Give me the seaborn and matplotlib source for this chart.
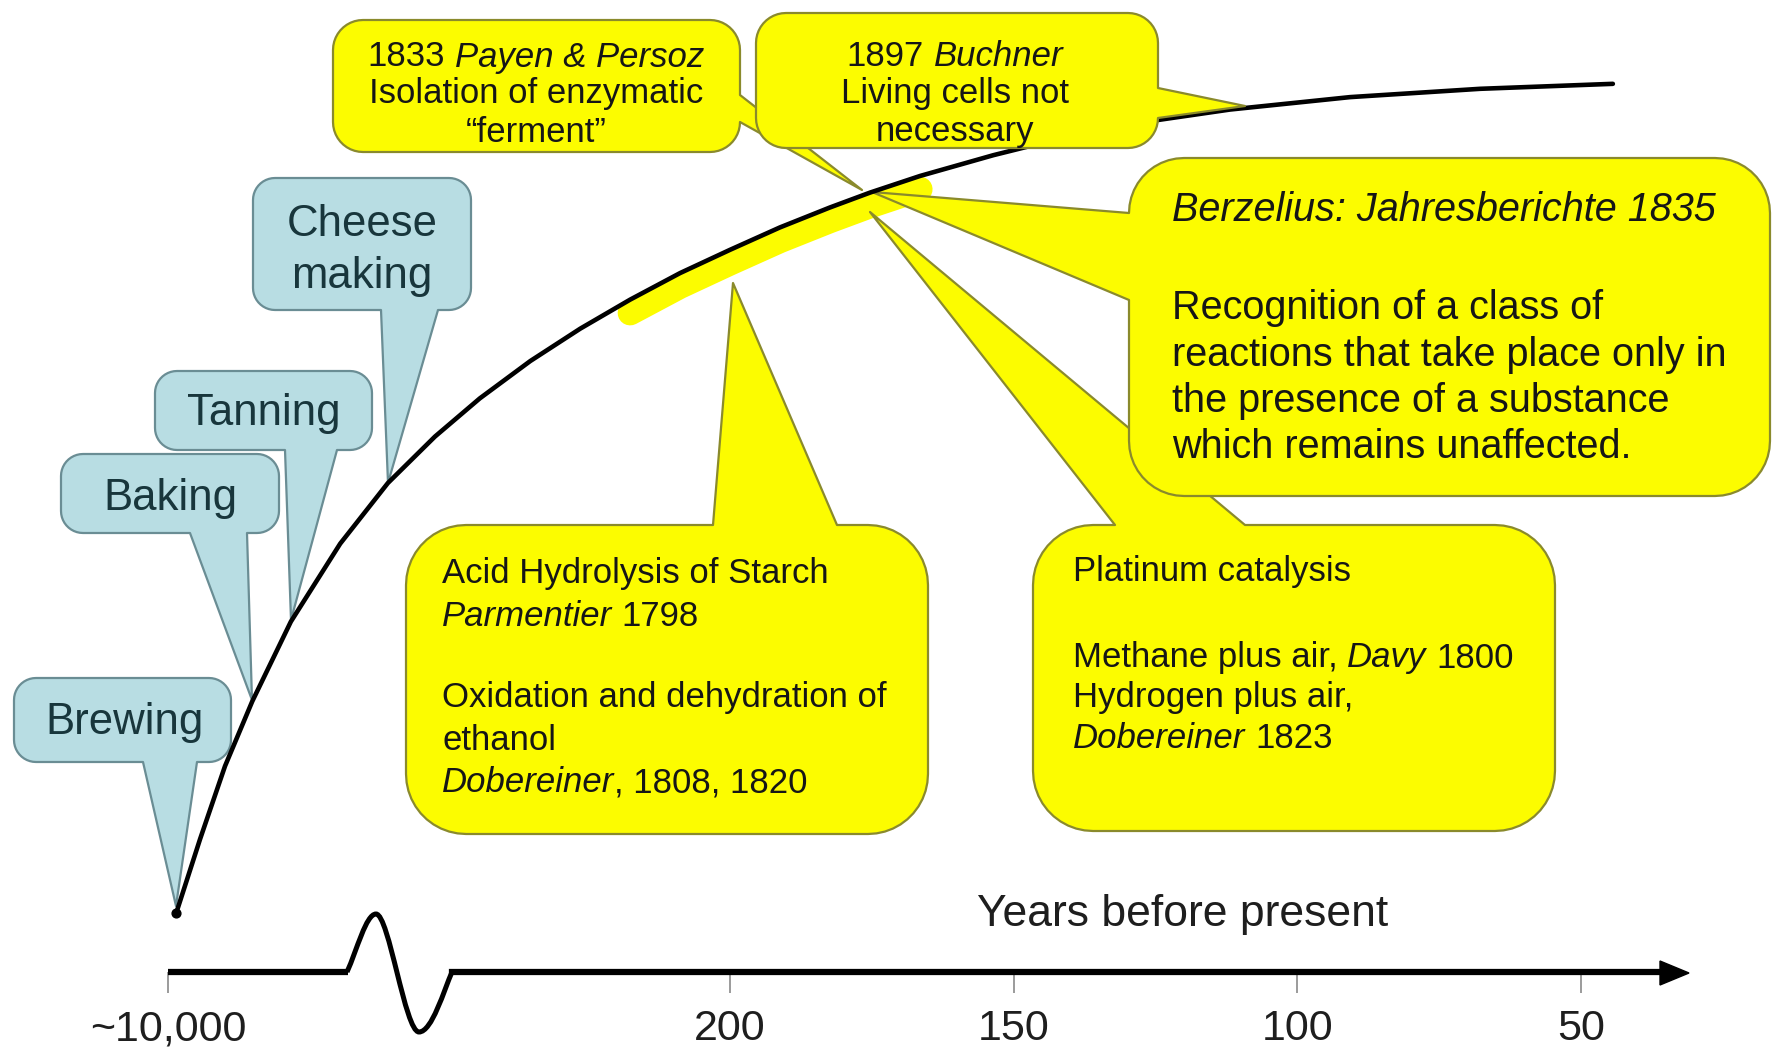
import matplotlib
matplotlib.use("Agg")
import matplotlib.pyplot as plt
import matplotlib.transforms as mtransforms
from matplotlib.patches import Polygon, PathPatch
from matplotlib.path import Path
import numpy as np
import pandas as pd
import seaborn as sns

W, H = 1779, 1056

# progress curve: position on the time axis (years before present, squeezed before the break)
curve_years = [297.6, 293.4, 289.0, 284.2, 277.4, 268.7, 260.3, 252.0, 244.1, 235.2, 226.4,
               217.6, 208.8, 200.0, 191.2, 182.4, 175.3, 166.5, 153.6, 140.1, 126.0, 111.9,
               90.7, 67.8, 44.4]
curve_level = [0, 8.9, 17.7, 25.5, 35.1, 44.5, 51.8, 57.4, 62.0, 66.5, 70.4,
               73.9, 77.1, 79.9, 82.6, 85.0, 86.8, 88.8, 91.3, 93.6, 95.4, 96.8,
               98.3, 99.3, 99.9]

tick_pos = [299, 200, 150, 100, 50]
tick_labels = ['~10,000', '200', '150', '100', '50']
axis_title = 'Years before present'

early_labels = ['Brewing', 'Baking', 'Tanning', 'Cheese\nmaking']

# '*' toggles italics
payen_lines = ['1833 *Payen & Persoz*', 'Isolation of enzymatic', '\u201cferment\u201d']
buchner_lines = ['1897 *Buchner*', 'Living cells not', 'necessary']
berzelius_lines = ['*Berzelius: Jahresberichte 1835*', 'Recognition of a class of',
                   'reactions that take place only in', 'the presence of a substance',
                   'which remains unaffected.']
acid_lines = ['Acid Hydrolysis of Starch', '*Parmentier* 1798', 'Oxidation and dehydration of',
              'ethanol', '*Dobereiner*, 1808, 1820']
platinum_lines = ['Platinum catalysis', 'Methane plus air, *Davy* 1800', 'Hydrogen plus air,',
                  '*Dobereiner* 1823']

YELLOW, YEDGE, YTEXT = '#fcfc00', '#8a8a2c', '#161616'
BLUE, BEDGE, BTEXT = '#b8dde3', '#6a8d94', '#18363c'

sns.set_theme(style='white')
plt.rcParams['font.family'] = ['Liberation Sans', 'DejaVu Sans']

fig = plt.figure(figsize=(W / 100, H / 100), dpi=100)
ax = fig.add_axes([0, 0, 1, 1])
ax.set_xlim(328.66, 15.12)
ax.set_ylim(-17.23, 110.0)

# layout helper: pixel coords from the top-left corner
PIX = mtransforms.Affine2D().scale(1, -1).translate(0, H)
renderer = fig.canvas.get_renderer()


def measure(s, size, style='normal'):
    t = ax.text(0, 0, s, transform=PIX, fontsize=size, style=style)
    w = t.get_window_extent(renderer).width
    t.remove()
    return w


def rich_line(x, yc, line, size, color, ha='left', z=5):
    sp = measure('a a', size) - measure('aa', size)
    parts, total = [], 0
    for i, p in enumerate(line.split('*')):
        if not p:
            continue
        style = 'italic' if i % 2 else 'normal'
        core = p.strip(' ')
        lead = (len(p) - len(p.lstrip(' '))) * sp
        trail = (len(p) - len(p.rstrip(' '))) * sp
        w = measure(core, size, style) if core else 0
        parts.append((total + lead, core, style))
        total += lead + w + trail
    x0 = x - total / 2 if ha == 'center' else x
    yb = yc + 0.36 * size * 100 / 72
    for off, core, style in parts:
        ax.text(x0 + off, yb, core, transform=PIX, fontsize=size, style=style,
                color=color, ha='left', va='baseline', zorder=z)


def callout(box, r, side, base, tip, fc, ec, z):
    x0, y0, x1, y1 = box

    def arc(cx, cy, a0, a1):
        t = np.radians(np.linspace(a0, a1, 12))
        return list(zip(cx + r * np.cos(t), cy + r * np.sin(t)))

    pts = arc(x0 + r, y0 + r, 180, 270)
    if side == 'top':
        pts += [(base[0], y0), tip, (base[1], y0)]
    pts += arc(x1 - r, y0 + r, 270, 360)
    if side == 'right':
        pts += [(x1, base[0]), tip, (x1, base[1])]
    pts += arc(x1 - r, y1 - r, 0, 90)
    if side == 'bottom':
        pts += [(base[1], y1), tip, (base[0], y1)]
    pts += arc(x0 + r, y1 - r, 90, 180)
    if side == 'left':
        pts += [(x0, base[1]), tip, (x0, base[0])]
    ax.add_patch(Polygon(pts, closed=True, transform=PIX, fc=fc, ec=ec, lw=1.6,
                         joinstyle='round', zorder=z))


df = pd.DataFrame({'years': curve_years, 'level': curve_level})

# yellow marker stroke hugging the curve
hl = df[(df.years <= 218) & (df.years >= 166)]
sns.lineplot(x=hl.years, y=hl.level - 1.6, ax=ax, color=YELLOW, linewidth=18,
             solid_capstyle='round', sort=False, zorder=1.5)

# early processes (blue)
blue = [((14, 678, 231, 762), (143, 197), (176, 906)),
        ((61, 454, 279, 533), (190, 247), (252, 700)),
        ((155, 371, 372, 450), (285, 337), (291, 620)),
        ((253, 178, 471, 310), (381, 438), (388, 483))]
blue_text = [[(125, 718)], [(170, 494)], [(264, 409)], [(362, 220), (362, 272)]]
for (box, base, tip), label, pos in zip(blue, early_labels, blue_text):
    callout(box, 22, 'bottom', base, tip, BLUE, BEDGE, 2)
    for line, (x, y) in zip(label.split('\n'), pos):
        rich_line(x, y, line, 31.5, BTEXT, ha='center', z=2.05)

# 19th century milestones (yellow)
callout((1033, 525, 1555, 831), 60, 'top', (1115, 1245), (870, 212), YELLOW, YEDGE, 2.2)
for line, y in zip(platinum_lines, [568, 655, 695, 735]):
    rich_line(1073, y, line, 25, YTEXT, z=2.25)

callout((406, 525, 928, 834), 60, 'top', (713, 837), (733, 283), YELLOW, YEDGE, 2.3)
for line, y in zip(acid_lines, [570, 613, 695, 737, 780]):
    rich_line(442, y, line, 25, YTEXT, z=2.35)

callout((1129, 158, 1770, 496), 55, 'left', (213, 300), (872, 192), YELLOW, YEDGE, 2.4)
for line, y in zip(berzelius_lines, [207, 305, 352, 398, 444]):
    rich_line(1172, y, line, 28.5, YTEXT, z=2.45)

callout((333, 20, 740, 152), 30, 'right', (95, 122), (862, 190), YELLOW, YEDGE, 2.5)
for line, y in zip(payen_lines, [54, 91, 129]):
    rich_line(536, y, line, 25, YTEXT, ha='center', z=2.55)

# the curve itself
sns.lineplot(data=df, x='years', y='level', ax=ax, color='black', linewidth=3.3,
             sort=False, zorder=3)
ax.scatter(curve_years[:1], curve_level[:1], s=40, color='black', zorder=3)

callout((756, 13, 1158, 148), 30, 'right', (88, 118), (1245, 106), YELLOW, YEDGE, 4)
for line, y in zip(buchner_lines, [54, 91, 129]):
    rich_line(955, y, line, 25, YTEXT, ha='center', z=4.05)

# time axis with a break
axis_level = -7.1
break_start, break_end, arrow_base = 267.3, 249.0, 35.7
for s in ['top', 'left', 'right']:
    ax.spines[s].set_visible(False)
ax.spines['bottom'].set_position(('data', axis_level))
ax.spines['bottom'].set_bounds(break_end, arrow_base)
ax.spines['bottom'].set_linewidth(4.5)
ax.spines['bottom'].set_color('black')
ax.set_xlabel('')
ax.set_ylabel('')
ax.set_yticks([])
ax.set_xticks(tick_pos, tick_labels)
ax.tick_params(axis='x', bottom=True, direction='out', length=15, width=1.2,
               color='#8a8a8a', pad=12, labelsize=31, labelcolor='#1e1e1e')
ax.plot([tick_pos[0], break_start], [axis_level, axis_level], color='black',
        linewidth=4.5, solid_capstyle='butt', zorder=3)

squiggle = Path([(347, 972), (357, 950), (366, 914), (376, 914),
                 (389, 914), (405, 1032), (419, 1032),
                 (432, 1032), (444, 990), (452, 972)],
                [Path.MOVETO] + [Path.CURVE4] * 9)
ax.add_patch(PathPatch(squiggle, transform=PIX, fill=False, ec='black', lw=3.6, zorder=3))
ax.add_patch(Polygon([(1660, 961), (1689, 973), (1660, 985)], closed=True, transform=PIX,
                     fc='black', ec='black', lw=1, zorder=3))

rich_line(1183, 910, axis_title, 32, '#1e1e1e', ha='center')

fig.savefig('out.png', dpi=100)
